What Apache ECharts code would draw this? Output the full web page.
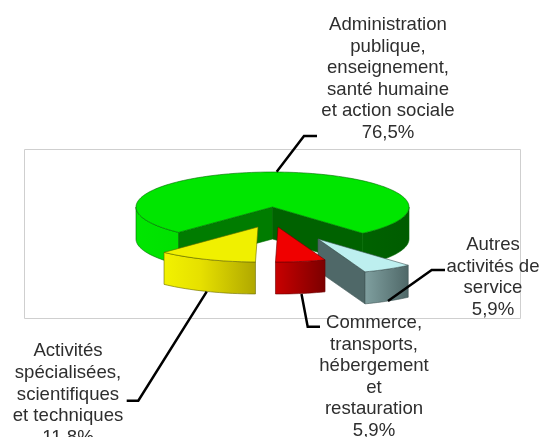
<!DOCTYPE html>
<html><head><meta charset="utf-8">
<style>html,body{margin:0;padding:0;background:#fff}#c{width:541px;height:437px}</style>
<script src="https://cdn.jsdelivr.net/npm/echarts@6/dist/echarts.min.js"></script>
</head><body><div id="c"></div>
<script>
// Data, in drawing order (clockwise on screen, back slice first)
const categories = [
  "Administration\npublique,\nenseignement,\nsanté humaine\net action sociale",
  "Autres\nactivités de\nservice",
  "Commerce,\ntransports,\nhébergement\net\nrestauration",
  "Activités\nspécialisées,\nscientifiques\net techniques"
];
const values = [76.5, 5.9, 5.9, 11.8];

// Projection and styling of the pseudo-3D pie
const CX = 272.5, CY = 207, RX = 136.5, RY = 35, DEPTH = 32;
const START = 133.5; // screen angle where the first slice begins (deg, clockwise from +x)
const looks = [
  {dx:0, dy:0, top:'#00E600', edge:'#006a00',
   rim:[[0,'#00e600'],[.4,'#00d800'],[.6,'#006a00'],[1,'#005c00']],
   wallStart:'#007c00', wallEnd:'#006200',
   label:[388,14], line:[[276.7,171.7],[304,136],[317,136]]},
  {dx:45.5, dy:32, top:'#BDEFEF', edge:'#3f5656',
   rim:[[0,'#7f9f9f'],[1,'#4f6868']],
   wallStart:'#4f6868', wallEnd:'#4f6868',
   label:[493,234], line:[[388,301],[431.7,270],[445,270]]},
  {dx:5.5, dy:20, top:'#F00000', edge:'#6a0000',
   rim:[[0,'#c80000'],[1,'#7c0000']],
   wallStart:'#a00000', wallEnd:'#a00000',
   label:[374,312], line:[[301.5,294],[307.7,326.7],[320,326.7]]},
  {dx:-14.5, dy:20, top:'#F0F000', edge:'#6a6a00',
   rim:[[0,'#f2f200'],[.4,'#e6e000'],[1,'#b0a800']],
   wallStart:'#b0a800', wallEnd:'#b0a800',
   label:[68,340.5], line:[[206.7,291.7],[138.3,400.7],[126.7,400.7]]}
];
const FONT = '18.6px "Liberation Sans", Arial, sans-serif';
const LH = 21.6;

const total = values.reduce((a,b)=>a+b,0);
const rad = d => d*Math.PI/180;
function pt(a, ox, oy, down){
  return [CX+ox+RX*Math.cos(rad(a)), CY+oy+RY*Math.sin(rad(a))+(down?DEPTH:0)];
}
function arc(a0,a1,ox,oy,down){
  const pts=[], n=Math.max(2,Math.ceil(Math.abs(a1-a0)/2));
  for(let k=0;k<=n;k++) pts.push(pt(a0+(a1-a0)*k/n,ox,oy,down));
  return pts;
}
function renderItem(params, api){
  const i = params.dataIndex, value = api.value(0), look = looks[i];
  let a0 = START;
  for(let k=0;k<i;k++) a0 = a0 + values[k]/total*360;
  a0 = a0 % 360;
  const a1 = a0 + value/total*360;
  const ox = look.dx, oy = look.dy;
  const stroke = look.edge, children = [];
  const poly = (points, fill) => children.push({type:'polygon', shape:{points},
    style:{fill, stroke, lineWidth:.6, lineJoin:'round'}});

  const apexT = [CX+ox, CY+oy], apexB = [CX+ox, CY+oy+DEPTH];
  // outer wall: only the front half of the ellipse is visible
  const spans = [];
  [[0,180],[360,540]].forEach(([f,t])=>{
    const s=Math.max(a0,f), e=Math.min(a1,t);
    if(e>s) spans.push([s,e]);
  });
  let xs=[];
  spans.forEach(([s,e])=>arc(s,e,ox,oy,false).forEach(p=>xs.push(p[0])));
  const rimFill = {type:'linear', global:true,
    x:Math.min.apply(null,xs), y:0, x2:Math.max.apply(null,xs), y2:0,
    colorStops:look.rim.map(([offset,color])=>({offset,color}))};

  // cut faces, drawn only when they clearly face the viewer
  if(Math.cos(rad(a0))<-0.05){
    poly([apexT,pt(a0,ox,oy,false),pt(a0,ox,oy,true),apexB],look.wallStart);
  }
  if(Math.cos(rad(a1))>0.05){
    poly([apexT,pt(a1,ox,oy,false),pt(a1,ox,oy,true),apexB],look.wallEnd);
  }
  spans.forEach(([s,e])=>{
    poly(arc(s,e,ox,oy,false).concat(arc(s,e,ox,oy,true).reverse()), rimFill);
  });
  // top face
  poly([apexT].concat(arc(a0,a1,ox,oy,false)), look.top);
  // leader line
  children.push({type:'polyline', shape:{points:look.line},
    style:{fill:'none', stroke:'#000', lineWidth:2.5, lineJoin:'miter'}, z2:5});
  // label
  children.push({type:'text', z2:6, style:{
    text: categories[i]+'\n'+String(value).replace('.',',')+'%',
    x:look.label[0], y:look.label[1], align:'center', verticalAlign:'top',
    font:FONT, lineHeight:LH, fill:'#2e2e2e'}});
  return {type:'group', children};
}
const chart = echarts.init(document.getElementById('c'), null, {renderer:'canvas'});
chart.setOption({
  animation:false,
  backgroundColor:'#fff',
  graphic:[{type:'rect', z:-1, shape:{x:24.5,y:149.5,width:496,height:169},
    style:{fill:'#fff', stroke:'#cfcfcf', lineWidth:1}}],
  series:[{type:'custom', coordinateSystem:'none', silent:true, clip:false,
    renderItem, data:values.map(v=>[v])}]
});
</script></body></html>
